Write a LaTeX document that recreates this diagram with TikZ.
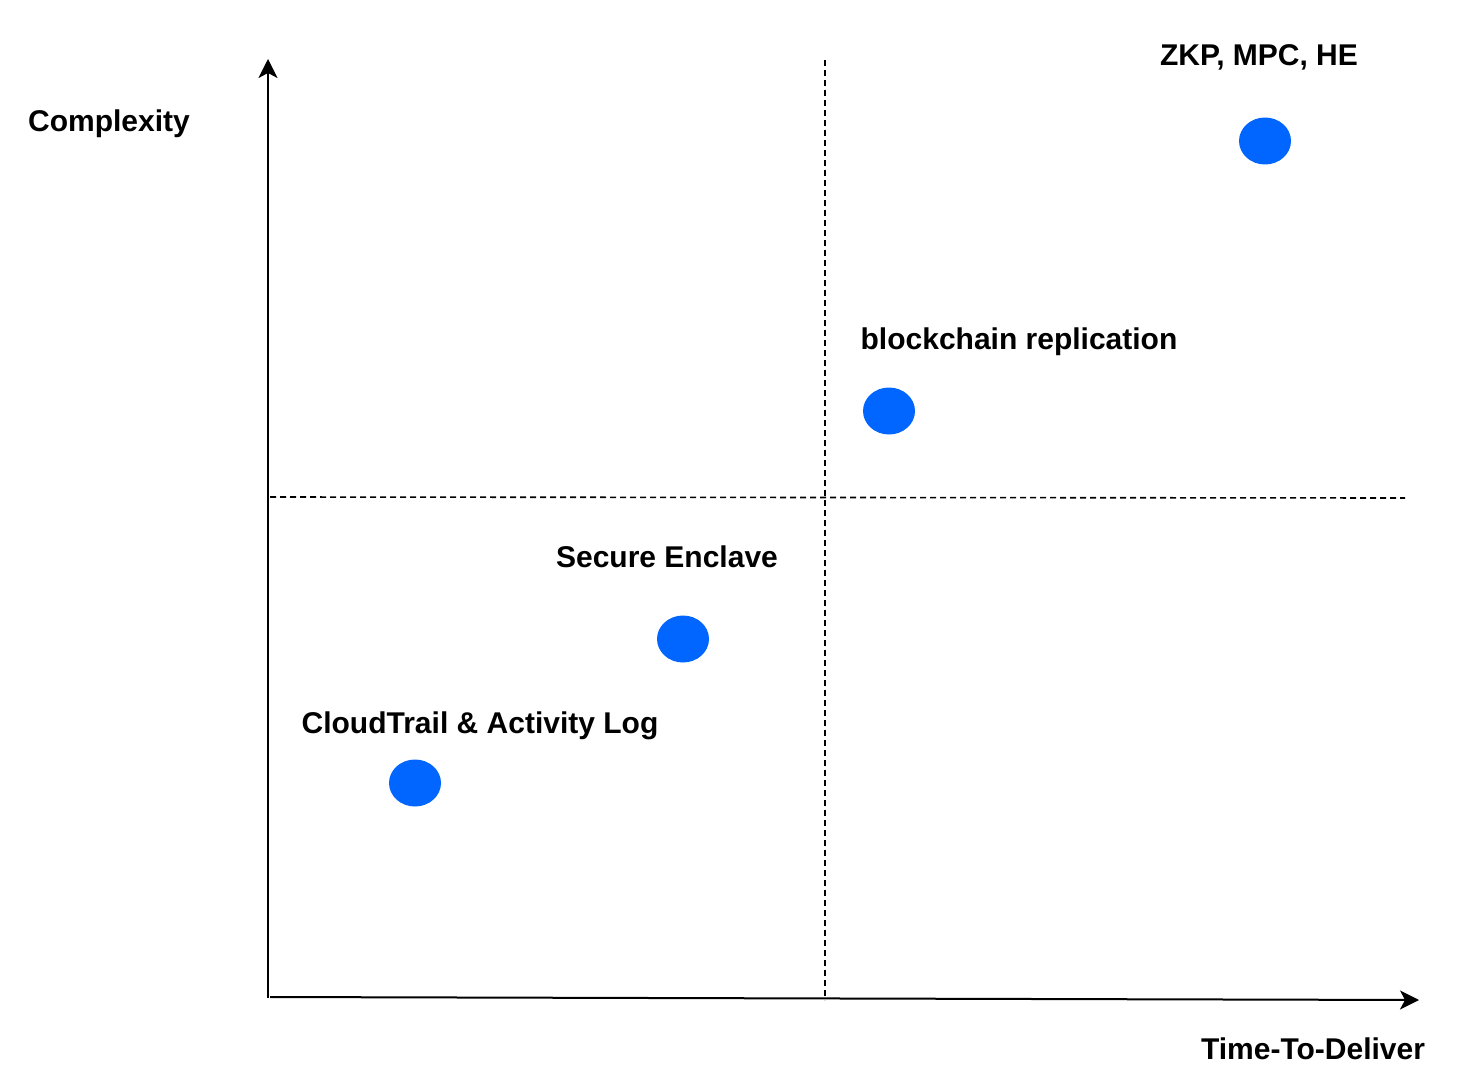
\documentclass[tikz,border=0pt]{standalone}
\usepackage{fontspec}
\setmainfont{Liberation Sans}
\usetikzlibrary{arrows.meta}
\usetikzlibrary{shapes.geometric}
\definecolor{dotblue}{RGB}{0,102,255}
\tikzset{
  lbl/.style={font=\fontsize{30}{36}\selectfont\bfseries, inner sep=0pt, anchor=center},
  dot/.style={ellipse, fill=dotblue, draw=none, minimum width=52pt, minimum height=47pt, inner sep=0pt},
  axis/.style={line width=2pt, -{Stealth[length=19pt,width=19pt,inset=5pt]}},
  guide/.style={line width=1.6pt, dash pattern=on 6pt off 4pt}
}
\begin{document}
\begin{tikzpicture}[x=1pt,y=-1pt]
\useasboundingbox (0,0) rectangle (1482,1086);
% coordinates
\coordinate (o) at (268,998);
\coordinate (ytip) at (268,59);
\coordinate (xs) at (270,997);
\coordinate (xtip) at (1419,1000);
\coordinate (vtop) at (825,60);
\coordinate (vbot) at (825,1000);
\coordinate (hl) at (270,497);
\coordinate (hr) at (1405,498);
% guides
\draw[guide] (vtop) -- (vbot);
\draw[guide] (hl) -- (hr);
% axes
\draw[axis] (o) -- (ytip);
\draw[axis] (xs) -- (xtip);
% labels
\node[lbl] (ylab) at (109,124) {Complexity};
\node[lbl] (xlab) at (1313,1049) {Time-To-Deliver};
\node[lbl] (zkpl) at (1259,57) {ZKP, MPC, HE};
\node[lbl] (bcl) at (1019,342) {blockchain replication};
\node[lbl] (sel) at (667,557) {Secure Enclave};
\node[lbl] (ctl) at (480,726) {CloudTrail \& Activity Log};
% dots
\node[dot] (zkp) at (1265,141) {};
\node[dot] (bc) at (889,411) {};
\node[dot] (se) at (683,639) {};
\node[dot] (ct) at (415,783) {};
\end{tikzpicture}
\end{document}
